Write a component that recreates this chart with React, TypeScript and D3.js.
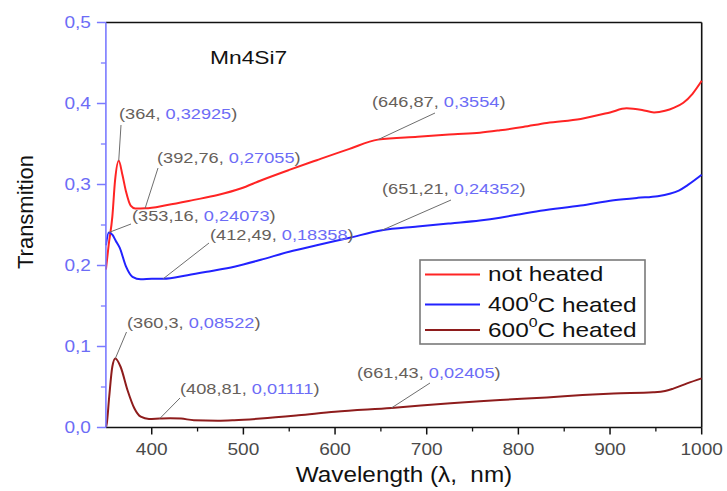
import React from "react";
import * as d3 from "d3";

// Transmission spectra of Mn4Si7 films (wavelength in nm, transmission as a fraction)
const wlNotHeated = [350, 353, 357, 360, 364, 368, 372, 377, 382, 392.76, 417, 446, 472, 497, 519, 550, 580, 615, 646.87, 690, 730, 758, 780, 805, 831, 868, 900, 918, 935, 948, 960, 970, 980, 990, 1000];
const tNotHeated = [0.195, 0.225, 0.26, 0.305, 0.32925, 0.312, 0.291, 0.274, 0.2705, 0.27055, 0.2747, 0.281, 0.287, 0.295, 0.305, 0.318, 0.33, 0.3437, 0.3554, 0.359, 0.362, 0.364, 0.367, 0.371, 0.376, 0.381, 0.389, 0.394, 0.392, 0.389, 0.391, 0.395, 0.401, 0.412, 0.428];

const wl400 = [350, 353.16, 357, 361, 365, 372, 379, 388, 400, 412.49, 439, 464, 490, 519, 550, 580, 615, 651.21, 690, 726, 758, 780, 800, 824, 868, 904, 930, 952, 965, 975, 985, 1000];
const t400 = [0.225, 0.24073, 0.238, 0.23, 0.222, 0.1985, 0.186, 0.183, 0.1835, 0.18358, 0.188, 0.193, 0.1985, 0.207, 0.217, 0.225, 0.234, 0.24352, 0.248, 0.252, 0.2555, 0.259, 0.263, 0.2675, 0.274, 0.2805, 0.2835, 0.2855, 0.2885, 0.2925, 0.2995, 0.312];

const wl600 = [350, 351, 353.6, 357, 360.3, 366, 373.6, 381, 388, 397, 408.81, 420, 432, 446, 472, 490, 519, 560, 600, 661.43, 726, 758, 780, 831, 870, 904, 947, 960, 969, 984, 1000];
const t600 = [0, 0.005, 0.038, 0.075, 0.08522, 0.075, 0.046, 0.0237, 0.0133, 0.0105, 0.01111, 0.0115, 0.011, 0.009, 0.0084, 0.009, 0.011, 0.015, 0.0195, 0.02405, 0.03, 0.0325, 0.034, 0.037, 0.04, 0.042, 0.0435, 0.045, 0.048, 0.0545, 0.0607];

const seriesNames = ["not heated", "400", "600"];
const seriesColors = ["#ff2424", "#2222ff", "#8e1c1c"];

// Picked points (wavelength, transmission)
const peakWavelengths = [364, 392.76, 353.16, 412.49, 646.87, 651.21, 360.3, 408.81, 661.43];
const peakValues = [0.32925, 0.27055, 0.24073, 0.18358, 0.3554, 0.24352, 0.08522, 0.01111, 0.02405];

const xTicks = [400, 500, 600, 700, 800, 900, 1000];
const yTicks = [0, 0.1, 0.2, 0.3, 0.4, 0.5];

// Leader end point and label anchor for each picked point, in pixels
const calloutLayout = [
  { lx: 121, ly: 125, tx: 119, ty: 114 },
  { lx: 158, ly: 168, tx: 157, ty: 158 },
  { lx: 131, ly: 224, tx: 132, ty: 216 },
  { lx: 209, ly: 243, tx: 210, ty: 235 },
  { lx: 435, ly: 113, tx: 372, ty: 102 },
  { lx: 451, ly: 200, tx: 382, ty: 189 },
  { lx: 126.5, ly: 332, tx: 127, ty: 323 },
  { lx: 180, ly: 398, tx: 180, ty: 389 },
  { lx: 430, ly: 383, tx: 357, ty: 373 },
];

const W = 727;
const H = 491;
const FONT = "'Liberation Sans', Arial, sans-serif";
const AXIS_BLUE = "#7a7aff";
const LABEL_BLUE = "#6c6cf6";
const NOTE_GRAY = "#66605a";

const comma = (v: number) => String(v).replace(".", ",");
const tickText = (v: number) => d3.format(".1f")(v).replace(".", ",");

export default function App() {
  const x = d3.scaleLinear().domain([350, 1000]).range([105.9, 701.7]);
  const y = d3.scaleLinear().domain([0, 0.5]).range([427.5, 22.5]);

  const line = d3
    .line<[number, number]>()
    .x((d) => x(d[0]))
    .y((d) => y(d[1]))
    .curve(d3.curveMonotoneX);

  const series = [
    d3.zip(wlNotHeated, tNotHeated) as [number, number][],
    d3.zip(wl400, t400) as [number, number][],
    d3.zip(wl600, t600) as [number, number][],
  ];

  const xMinor = d3.range(450, 1000, 100);
  const yMinor = d3.range(0.05, 0.5, 0.1);

  const legendRows = [274.5, 304.5, 330];

  return (
    <svg
      width={W}
      height={H}
      style={{ position: "fixed", left: 0, top: 0, background: "#fff" }}
      fontFamily={FONT}
    >
      <rect width={W} height={H} fill="#fff" />

      {/* frame */}
      <line x1={x(350)} x2={x(1000)} y1={y(0.5)} y2={y(0.5)} stroke="#111" strokeWidth={1.6} />
      <line x1={x(1000)} x2={x(1000)} y1={y(0.5)} y2={y(0)} stroke="#111" strokeWidth={1.6} />

      {/* spectra */}
      {series.map((s, i) => (
        <path key={i} d={line(s) || ""} fill="none" stroke={seriesColors[i]} strokeWidth={2} strokeLinejoin="round" />
      ))}

      {/* x axis */}
      <line x1={x(350)} x2={x(1000)} y1={y(0)} y2={y(0)} stroke="#111" strokeWidth={1.6} />
      {xTicks.map((t) => (
        <g key={t}>
          <line x1={x(t)} x2={x(t)} y1={y(0)} y2={y(0) + 7} stroke="#111" strokeWidth={1.5} />
          <text
            transform={`translate(${x(t)},${y(0) + 22}) scale(1.19,1)`}
            textAnchor="middle"
            dominantBaseline="central"
            fontSize={16}
            fill="#4a4a4a"
          >
            {t}
          </text>
        </g>
      ))}
      {xMinor.map((t) => (
        <line key={t} x1={x(t)} x2={x(t)} y1={y(0)} y2={y(0) + 4} stroke="#111" strokeWidth={1.3} />
      ))}

      {/* y axis */}
      <line x1={x(350)} x2={x(350)} y1={y(0)} y2={y(0.5)} stroke={AXIS_BLUE} strokeWidth={1.6} />
      {yTicks.map((t) => (
        <g key={t}>
          <line x1={x(350) - 9} x2={x(350)} y1={y(t)} y2={y(t)} stroke={AXIS_BLUE} strokeWidth={1.5} />
          <text
            transform={`translate(${x(350) - 15},${y(t)}) scale(1.19,1)`}
            textAnchor="end"
            dominantBaseline="central"
            fontSize={16}
            fill={LABEL_BLUE}
          >
            {tickText(t)}
          </text>
        </g>
      ))}
      {yMinor.map((t) => (
        <line key={t} x1={x(350) - 5} x2={x(350)} y1={y(t)} y2={y(t)} stroke={AXIS_BLUE} strokeWidth={1.3} />
      ))}

      {/* axis titles */}
      <text transform={`translate(33,212) rotate(-90)`} textAnchor="middle" fontSize={22} fill="#111">
        Transmition
      </text>
      <text
        transform={`translate(404,482) scale(1.08,1)`}
        textAnchor="middle"
        fontSize={22.5}
        fill="#111"
        style={{ whiteSpace: "pre" }}
      >
        {"Wavelength (λ,  nm)"}
      </text>

      {/* sample name */}
      <text transform="translate(210,57) scale(1.2,1)" dominantBaseline="central" fontSize={19} fill="#111">
        Mn4Si7
      </text>

      {/* callouts */}
      {peakWavelengths.map((wl, i) => {
        const p = calloutLayout[i];
        return (
          <g key={i}>
            <line x1={x(wl)} y1={y(peakValues[i])} x2={p.lx} y2={p.ly} stroke="#6e6e6e" strokeWidth={1} />
            <text
              transform={`translate(${p.tx},${p.ty}) scale(1.3,1)`}
              dominantBaseline="central"
              fontSize={14}
              fill={NOTE_GRAY}
              style={{ whiteSpace: "pre" }}
            >
              {"(" + comma(wl) + ", "}
              <tspan fill={LABEL_BLUE}>{comma(peakValues[i])}</tspan>
              {")"}
            </text>
          </g>
        );
      })}

      {/* legend */}
      <rect x={420} y={260} width={225} height={84} fill="#fff" stroke="#7a7a7a" strokeWidth={1.6} />
      {seriesNames.map((name, i) => (
        <g key={name}>
          <line x1={425} x2={480} y1={legendRows[i]} y2={legendRows[i]} stroke={seriesColors[i]} strokeWidth={2} />
          <text
            transform={`translate(488,${legendRows[i]}) scale(1.22,1)`}
            dominantBaseline="central"
            fontSize={20}
            fill="#111"
          >
            {i === 0 ? (
              name
            ) : (
              <>
                {name}
                <tspan fontSize={13} dy={-7}>0</tspan>
                <tspan dy={7}>C heated</tspan>
              </>
            )}
          </text>
        </g>
      ))}
    </svg>
  );
}
